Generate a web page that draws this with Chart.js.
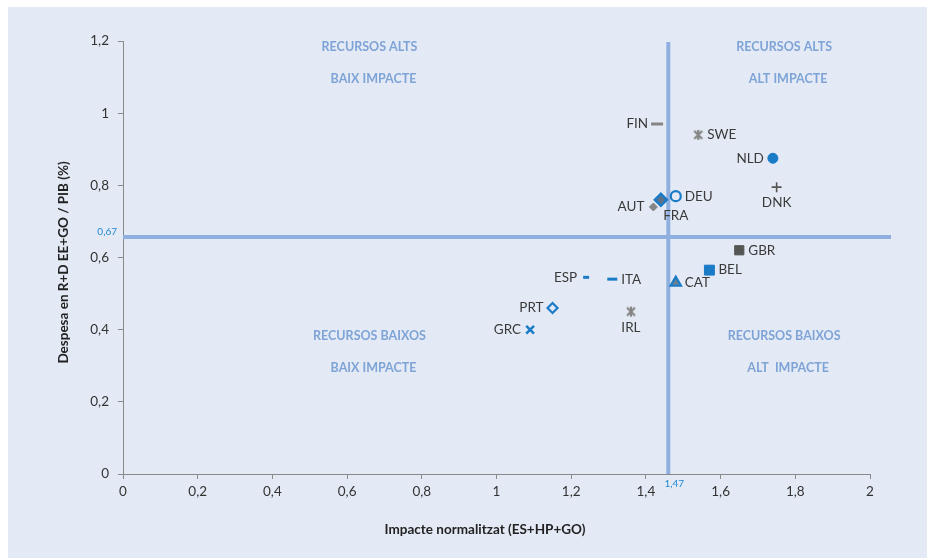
<!DOCTYPE html>
<html>
<head>
<meta charset="utf-8">
<script src="https://cdn.jsdelivr.net/npm/chart.js@4/dist/chart.umd.min.js"></script>
<style>
  html, body { margin: 0; padding: 0; background: #ffffff; }
  #wrap { width: 927px; height: 558px; position: relative; }
</style>
</head>
<body>
<div id="wrap"><canvas id="c" width="927" height="558"></canvas></div>
<script>
// ---- Data ----
const countries = ['FIN','SWE','NLD','DNK','DEU','FRA','AUT','GBR','BEL','CAT','ESP','ITA','PRT','GRC','IRL'];
const impact    = [1.43, 1.54, 1.74, 1.75, 1.48, 1.44, 1.42, 1.65, 1.57, 1.48, 1.24, 1.31, 1.15, 1.09, 1.36];
const spending  = [0.97, 0.94, 0.875, 0.795, 0.77, 0.76, 0.74, 0.62, 0.565, 0.53, 0.545, 0.54, 0.46, 0.40, 0.45];
const xTicks = [0, 0.2, 0.4, 0.6, 0.8, 1, 1.2, 1.4, 1.6, 1.8, 2];
const yTicks = [0, 0.2, 0.4, 0.6, 0.8, 1, 1.2];
const meanImpact = 1.46, meanImpactLabel = '1,47';
const meanSpending = 0.657, meanSpendingLabel = '0,67';
const quadrantTexts = [
  ['RECURSOS ALTS', 'BAIX IMPACTE'],
  ['RECURSOS ALTS', 'ALT IMPACTE'],
  ['RECURSOS BAIXOS', 'BAIX IMPACTE'],
  ['RECURSOS BAIXOS', 'ALT  IMPACTE']
];

// ---- Styles ----
const BLUE = '#1a7bc6', GREY = '#858585', DARK = '#555555';
const FONT = 'Lato, "Open Sans", sans-serif';

function asterisk(color) {
  const c = document.createElement('canvas');
  c.width = 14; c.height = 14;
  const g = c.getContext('2d');
  g.strokeStyle = color; g.lineWidth = 2.2; g.lineCap = 'butt';
  g.beginPath();
  g.moveTo(3, 3); g.lineTo(11, 11);
  g.moveTo(11, 3); g.lineTo(3, 11);
  g.moveTo(7, 2); g.lineTo(7, 12);
  g.stroke();
  return c;
}
const ast = asterisk(GREY);

// per point marker style: [pointStyle, radius, fill, border, borderWidth]
const markerStyle = {
  FIN: ['line', 6, GREY, GREY, 3],
  SWE: [ast, 7, GREY, GREY, 0],
  NLD: ['circle', 5, BLUE, BLUE, 1],
  DNK: ['cross', 5, DARK, DARK, 1.6],
  DEU: ['circle', 5, 'rgba(0,0,0,0)', BLUE, 2.2],
  FRA: ['rectRot', 6, '#5d7286', BLUE, 2.5],
  AUT: ['rectRot', 4, GREY, GREY, 1],
  GBR: ['rect', 6.5, DARK, DARK, 1],
  BEL: ['rect', 7, BLUE, BLUE, 1],
  CAT: ['triangle', 6, '#6a7f93', BLUE, 2.2],
  ESP: ['line', 3, BLUE, BLUE, 3],
  ITA: ['line', 5, BLUE, BLUE, 3],
  PRT: ['rectRot', 5, 'rgba(0,0,0,0)', BLUE, 2.2],
  GRC: ['crossRot', 5.5, BLUE, BLUE, 2.5],
  IRL: [ast, 7, GREY, GREY, 0]
};
// label side relative to the marker
const labelSide = {
  FIN: 'left', SWE: 'right', NLD: 'left', DNK: 'below', DEU: 'right', FRA: 'belowRight',
  AUT: 'left', GBR: 'right', BEL: 'right', CAT: 'right', ESP: 'left', ITA: 'right',
  PRT: 'left', GRC: 'left', IRL: 'below'
};

const fmt = v => (Math.round(v * 10) / 10).toString().replace('.', ',');

const bgPlugin = {
  id: 'bg',
  beforeDraw(chart) {
    const ctx = chart.ctx;
    ctx.save();
    ctx.fillStyle = '#e4eaf5';
    ctx.fillRect(8, 7, chart.width - 8, chart.height - 7);
    ctx.restore();
  }
};

const refPlugin = {
  id: 'refLines',
  beforeDatasetsDraw(chart) {
    const {ctx, chartArea, scales: {x, y}} = chart;
    const px = x.getPixelForValue(meanImpact);
    const py = y.getPixelForValue(meanSpending);
    ctx.save();
    ctx.strokeStyle = '#8fb0de';
    ctx.lineWidth = 4;
    ctx.beginPath();
    ctx.moveTo(chartArea.left, py); ctx.lineTo(chartArea.right + 21, py);
    ctx.moveTo(px, chartArea.top + 1); ctx.lineTo(px, chartArea.bottom);
    ctx.stroke();
    ctx.fillStyle = '#1f88d2';
    ctx.font = '10px ' + FONT;
    ctx.textAlign = 'right'; ctx.textBaseline = 'middle';
    ctx.fillText(meanSpendingLabel, chartArea.left - 6, py - 5);
    ctx.textAlign = 'center';
    ctx.fillText(meanImpactLabel, px + 6, chartArea.bottom + 10);

    // quadrant captions
    ctx.fillStyle = '#7ea3d6';
    ctx.font = 'bold 12.5px ' + FONT;
    ctx.textAlign = 'center';
    const cols = [x.getPixelForValue(0.66), x.getPixelForValue(1.77)];
    const rows = [[y.getPixelForValue(1.183), y.getPixelForValue(1.095)],
                  [y.getPixelForValue(0.382), y.getPixelForValue(0.294)]];
    quadrantTexts.forEach((lines, i) => {
      const cx = cols[i % 2];
      const r = rows[Math.floor(i / 2)];
      ctx.fillText(lines[0], cx, r[0]);
      ctx.fillText(lines[1], cx + 4, r[1]);
    });
    ctx.restore();
  }
};

const labelPlugin = {
  id: 'pointLabels',
  afterDatasetsDraw(chart) {
    const ctx = chart.ctx;
    const meta = chart.getDatasetMeta(0);
    ctx.save();
    ctx.fillStyle = '#3a3a3a';
    ctx.font = '13.5px ' + FONT;
    ctx.textBaseline = 'middle';
    meta.data.forEach((pt, i) => {
      const name = countries[i];
      const side = labelSide[name];
      let tx = pt.x, ty = pt.y;
      if (side === 'left') { ctx.textAlign = 'right'; tx -= 9; }
      else if (side === 'right') { ctx.textAlign = 'left'; tx += 9; }
      else if (side === 'below') { ctx.textAlign = 'center'; ty += 16; }
      else { ctx.textAlign = 'center'; tx += 15; ty += 16; }
      ctx.fillText(name, tx, ty);
    });
    ctx.restore();
  }
};

const pts = countries.map((c, i) => ({x: impact[i], y: spending[i]}));

new Chart(document.getElementById('c'), {
  type: 'scatter',
  data: {
    datasets: [{
      data: pts,
      pointStyle: countries.map(c => markerStyle[c][0]),
      pointRadius: countries.map(c => markerStyle[c][1]),
      pointHoverRadius: countries.map(c => markerStyle[c][1]),
      backgroundColor: countries.map(c => markerStyle[c][2]),
      borderColor: countries.map(c => markerStyle[c][3]),
      borderWidth: countries.map(c => markerStyle[c][4])
    }]
  },
  options: {
    responsive: false,
    animation: false,
    layout: { padding: { left: 0, right: 57, top: 41, bottom: 0 } },
    plugins: { legend: { display: false }, tooltip: { enabled: false } },
    scales: {
      x: {
        type: 'linear', min: 0, max: 2,
        afterFit: s => { s.height = 84; },
        afterBuildTicks: s => { s.ticks = xTicks.map(v => ({value: v})); },
        ticks: { callback: v => fmt(v), color: '#333', font: { family: FONT, size: 13.5 }, padding: 5, maxRotation: 0 },
        grid: { drawOnChartArea: false, drawTicks: true, tickLength: 5, color: '#8a8a8a' },
        border: { display: true, color: '#8a8a8a', width: 1 },
        title: { display: true, text: 'Impacte normalitzat (ES+HP+GO)' + '\u00a0'.repeat(7), color: '#222',
                 font: { family: FONT, size: 13.5, weight: 'bold' }, padding: { top: 0, bottom: 20 } }
      },
      y: {
        type: 'linear', min: 0, max: 1.2,
        afterFit: s => { s.width = 123; },
        afterBuildTicks: s => { s.ticks = yTicks.map(v => ({value: v})); },
        ticks: { callback: v => fmt(v), color: '#333', font: { family: FONT, size: 13.5 }, padding: 9 },
        grid: { drawOnChartArea: false, drawTicks: true, tickLength: 5, color: '#8a8a8a' },
        border: { display: true, color: '#8a8a8a', width: 1 },
        title: { display: true, text: 'Despesa en R+D EE+GO / PIB (%)' + '\u00a0'.repeat(3), color: '#222',
                 font: { family: FONT, size: 13.5, weight: 'bold' }, padding: { top: 56, bottom: 0 } }
      }
    }
  },
  plugins: [bgPlugin, refPlugin, labelPlugin]
});
</script>
</body>
</html>
